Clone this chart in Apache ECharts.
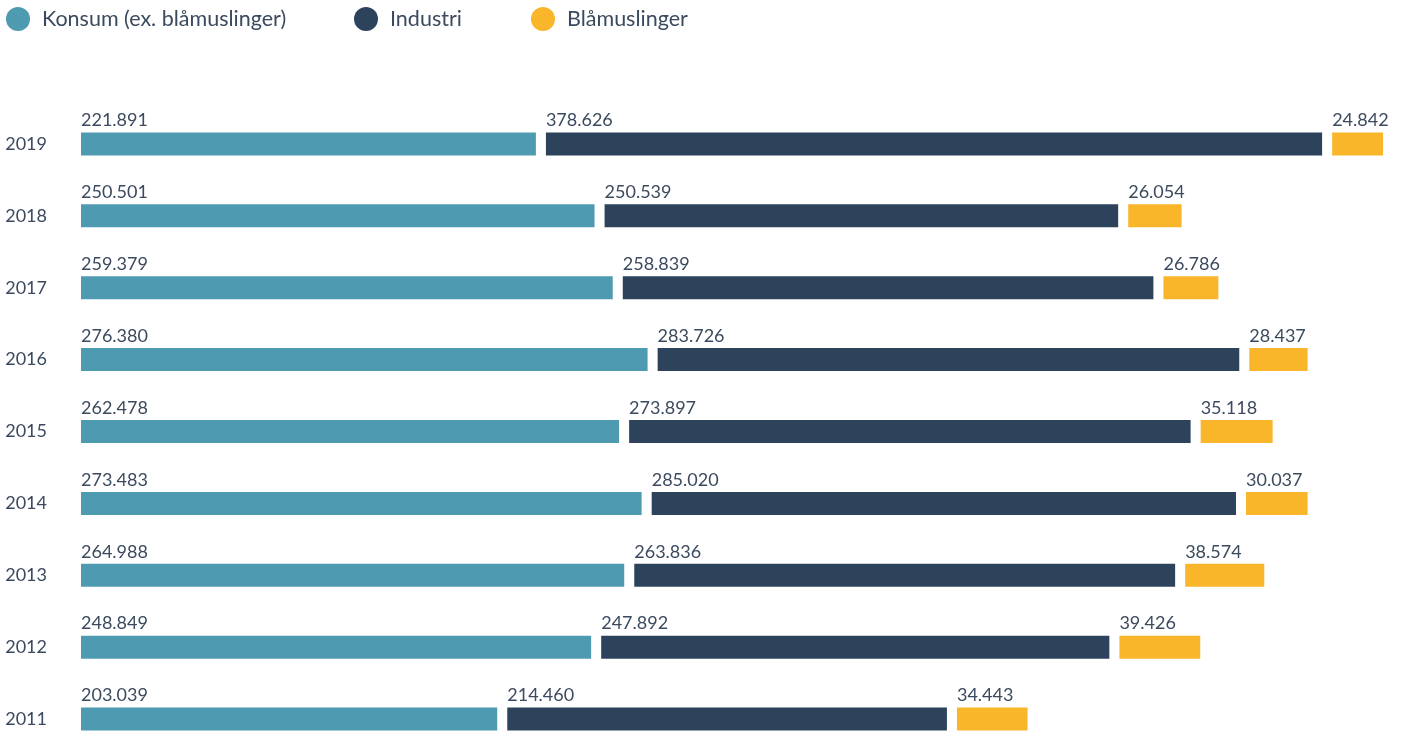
<!DOCTYPE html>
<html>
<head>
<meta charset="utf-8">
<script src="https://cdn.jsdelivr.net/npm/echarts@6/dist/echarts.min.js"></script>
<style>
  html, body { margin: 0; padding: 0; background: #fff; overflow: hidden; }
  #chart { width: 1406px; height: 770px; }
</style>
</head>
<body>
<div id="chart"></div>
<script>
// data (tonnes), bottom to top
const years = ['2011', '2012', '2013', '2014', '2015', '2016', '2017', '2018', '2019'];
const konsum = [203.039, 248.849, 264.988, 273.483, 262.478, 276.380, 259.379, 250.501, 221.891];
const industri = [214.460, 247.892, 263.836, 285.020, 273.897, 283.726, 258.839, 250.539, 378.626];
const blamuslinger = [34.443, 39.426, 38.574, 30.037, 35.118, 28.437, 26.786, 26.054, 24.842];

const colors = { konsum: '#4e9ab0', industri: '#2d435c', bla: '#fab62a' };
const textColor = '#3b4a5e';
const font = 'Lato';
const gap = 4.9; // white space between segments, in axis units

const chart = echarts.init(document.getElementById('chart'));

const fmt = v => v.toFixed(3);

const label = {
  show: true,
  position: [0, -3],
  align: 'left',
  verticalAlign: 'bottom',
  color: textColor,
  fontFamily: font,
  fontSize: 18,
  formatter: p => fmt(p.value)
};

const spacer = {
  type: 'bar',
  stack: 'total',
  barWidth: 23,
  silent: true,
  itemStyle: { color: 'transparent' },
  data: years.map(() => gap)
};

const legendBase = {
  top: 7,
  padding: 0,
  icon: 'circle',
  itemWidth: 24,
  itemHeight: 24,
  selectedMode: false,
  textStyle: { color: textColor, fontFamily: font, fontSize: 21.5, padding: [0, 0, 0, 7] }
};

const option = {
  animation: false,
  legend: [
    Object.assign({ left: 6, data: ['Konsum (ex. blåmuslinger)'] }, legendBase),
    Object.assign({ left: 354, data: ['Industri'] }, legendBase),
    Object.assign({ left: 531, data: ['Blåmuslinger'] }, legendBase)
  ],
  grid: { left: 81, top: 108, width: 640 * 2.05, height: 647 },
  xAxis: {
    type: 'value',
    min: 0,
    max: 640,
    show: false
  },
  yAxis: {
    type: 'category',
    data: years,
    axisLine: { show: false },
    axisTick: { show: false },
    axisLabel: { color: textColor, fontFamily: font, fontSize: 18, margin: 34, padding: [2, 0, 0, 0] }
  },
  series: [
    {
      name: 'Konsum (ex. blåmuslinger)',
      type: 'bar',
      stack: 'total',
      barWidth: 23,
      itemStyle: { color: colors.konsum },
      label: label,
      data: konsum
    },
    Object.assign({ name: 'gap1' }, spacer),
    {
      name: 'Industri',
      type: 'bar',
      stack: 'total',
      barWidth: 23,
      itemStyle: { color: colors.industri },
      label: label,
      data: industri
    },
    Object.assign({ name: 'gap2' }, spacer),
    {
      name: 'Blåmuslinger',
      type: 'bar',
      stack: 'total',
      barWidth: 23,
      itemStyle: { color: colors.bla },
      label: label,
      data: blamuslinger
    }
  ]
};

chart.setOption(option);
</script>
</body>
</html>
